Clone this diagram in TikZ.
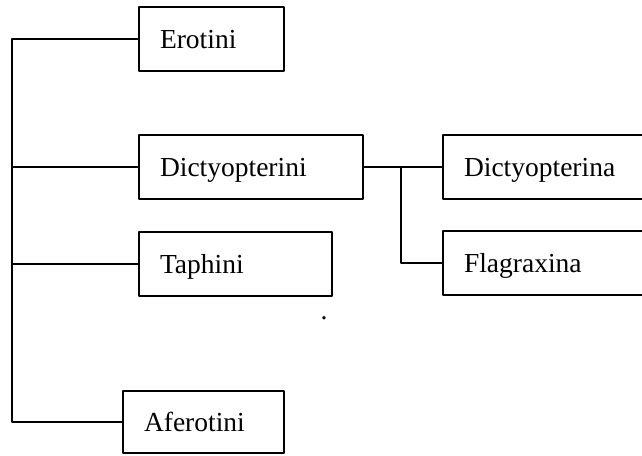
\documentclass[tikz,border=0pt]{standalone}
\usepackage{fontspec}
\setmainfont{Liberation Serif}
\begin{document}
\begin{tikzpicture}[x=1pt,y=-1pt,line join=round,line cap=rect,line width=1.5pt]
        \tikzset{taxon/.style={draw,rectangle,anchor=north west,outer sep=0pt,inner xsep=21pt,inner ysep=0pt,minimum height=64pt,align=left,text height=18.2pt,text depth=0pt,font=\fontsize{27.5}{33}\selectfont}}
        \useasboundingbox (0,0) rectangle (642,455);
        \node[taxon,text width=103pt] (erotini) at (139,7) {Erotini};
        \node[taxon,text width=182pt] (dictyopterini) at (139,135) {Dictyopterini};
        \node[taxon,text width=151pt] (taphini) at (139,232) {Taphini};
        \node[taxon,text width=119pt,minimum height=62pt] (aferotini) at (123,391) {Aferotini};
        \node[taxon,text width=178pt] (dictyopterina) at (443,135) {Dictyopterina};
        \node[taxon,text width=178pt] (flagraxina) at (443,231) {Flagraxina};
        \node[font=\fontsize{27.5}{33}\selectfont,inner sep=0pt] (stray) at (324,318) {.};
        \coordinate (trunk) at (12,0);
        \coordinate (fork) at (401,0);
        \draw (erotini.west) -- (erotini.west -| trunk) -- (aferotini.west -| trunk) -- (aferotini.west);
        \foreach \t in {dictyopterini,taphini}
        \draw (\t.west) -- (\t.west -| trunk);
        \draw (dictyopterini.east) -- (dictyopterina.west);
        \draw (dictyopterina.west -| fork) |- (flagraxina.west);
    \end{tikzpicture}
\end{document}
